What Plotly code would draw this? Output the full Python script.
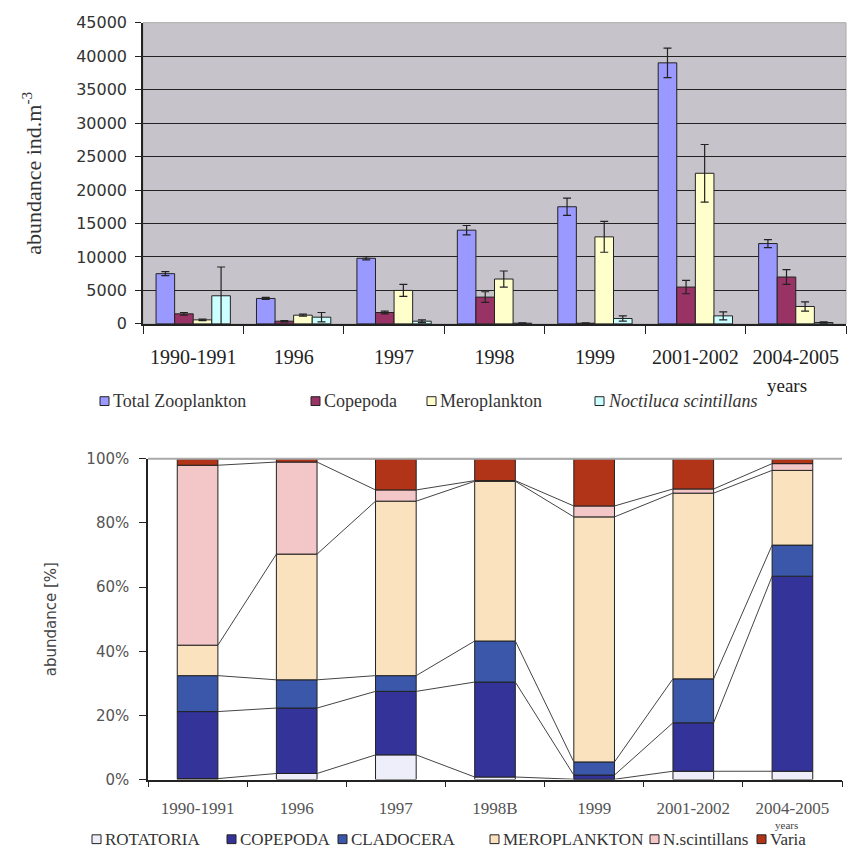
import plotly.graph_objects as go

# ---------------- data: top chart (abundance ind.m-3) ----------------
years_top = ["1990-1991", "1996", "1997", "1998", "1999", "2001-2002", "2004-2005"]
total_zoo = [7500, 3800, 9800, 14000, 17500, 39000, 12000]
total_err = [300, 150, 250, 700, 1300, 2200, 600]
copepoda = [1500, 400, 1700, 4000, 100, 5500, 7000]
copepoda_err = [200, 100, 200, 800, 50, 1000, 1100]
meroplankton = [600, 1300, 5000, 6700, 13000, 22500, 2600]
meroplankton_err = [100, 150, 900, 1200, 2300, 4300, 700]
noctiluca = [4200, 1000, 400, 100, 800, 1200, 200]
noctiluca_err = [4300, 700, 200, 50, 400, 600, 100]
top_ticks = [0, 5000, 10000, 15000, 20000, 25000, 30000, 35000, 40000, 45000]

# ---------------- data: bottom chart (abundance %) ----------------
years_bot = ["1990-1991", "1996", "1997", "1998B", "1999", "2001-2002", "2004-2005"]
rotatoria = [0.3, 1.9, 7.7, 0.8, 0.1, 2.6, 2.6]
copepoda_pct = [20.9, 20.4, 19.8, 29.6, 1.3, 15.1, 60.8]
cladocera = [11.2, 8.8, 4.9, 12.8, 4.1, 13.7, 9.7]
meroplankton_pct = [9.5, 39.2, 54.4, 49.8, 76.4, 57.9, 23.3]
n_scint = [56.1, 28.7, 3.5, 0.2, 3.4, 1.3, 2.1]
varia = [2.0, 1.0, 9.7, 6.8, 14.7, 9.4, 1.5]
bot_ticks = [0, 20, 40, 60, 80, 100]
bot_ticktext = [f"{t}%" for t in bot_ticks]

W, H = 851, 859
SERIF = "Liberation Serif"
SANS = "DejaVu Sans"
BOT_BAR_W = 0.41

fig = go.Figure()

# ---------------- top chart ----------------
top_series = [
    ("Total Zooplankton", total_zoo, total_err, "#9999ff"),
    ("Copepoda", copepoda, copepoda_err, "#993366"),
    ("Meroplankton", meroplankton, meroplankton_err, "#ffffcc"),
    ("<i>Noctiluca scintillans</i>", noctiluca, noctiluca_err, "#ccffff"),
]
for k, (name, vals, errs, col) in enumerate(top_series):
    fig.add_trace(go.Bar(
        x=years_top, y=vals, name=name, offsetgroup=f"t{k}",
        marker=dict(color=col, line=dict(color="#222", width=1)),
        error_y=dict(type="data", array=errs, visible=True, color="#222", thickness=1.2, width=4),
        xaxis="x", yaxis="y", showlegend=False,
    ))

# ---------------- bottom chart (stacked via cumulative base) ----------------
bot_series = [
    ("ROTATORIA", rotatoria, "#eeeefa"),
    ("COPEPODA", copepoda_pct, "#33339a"),
    ("CLADOCERA", cladocera, "#3b57a9"),
    ("MEROPLANKTON", meroplankton_pct, "#f9e2bd"),
    ("N.scintillans", n_scint, "#f3c6c8"),
    ("Varia", varia, "#b23418"),
]
cum = [0.0] * len(years_bot)
tops = []
for name, vals, col in bot_series:
    fig.add_trace(go.Bar(
        x=years_bot, y=vals, base=list(cum), name=name, offsetgroup="b", width=BOT_BAR_W,
        marker=dict(color=col, line=dict(color="#222", width=1)),
        xaxis="x2", yaxis="y2", showlegend=False,
    ))
    cum = [c + v for c, v in zip(cum, vals)]
    tops.append(list(cum))

# series lines joining the tops of each stacked segment
for top in tops:
    xs, ys = [], []
    for i in range(len(years_bot) - 1):
        xs += [i + BOT_BAR_W / 2, i + 1 - BOT_BAR_W / 2, None]
        ys += [top[i], top[i + 1], None]
    fig.add_trace(go.Scatter(x=xs, y=ys, mode="lines", line=dict(color="#444", width=1),
                             xaxis="x3", yaxis="y2", showlegend=False, hoverinfo="skip"))

# ---------------- helpers ----------------
def px_x(a, b):
    return [a / W, b / W]

def px_y(top, bottom):
    return [1 - bottom / H, 1 - top / H]

shapes = [
    # grey plot background of the top chart
    dict(type="rect", xref="paper", yref="paper", x0=143 / W, x1=846 / W,
         y0=1 - 322 / H, y1=1 - 14 / H, fillcolor="#c6c4ca", line=dict(color="#aaa", width=1),
         layer="below"),
    # light top frame line of the bottom chart
    dict(type="line", xref="paper", yref="paper", x0=148 / W, x1=842 / W,
         y0=1 - 460 / H, y1=1 - 460 / H, line=dict(color="#aaa", width=2)),
]
annotations = [
    dict(text="years", x=809 / W, y=1 - 385 / H, xref="paper", yref="paper", showarrow=False,
         yanchor="middle", font=dict(family=SERIF, size=19, color="#222")),
    dict(text="years", x=800 / W, y=1 - 834 / H, xref="paper", yref="paper", showarrow=False,
         yanchor="middle", font=dict(family=SERIF, size=11, color="#444")),
]

# manual legends (Excel style: small square right before the text)
def add_legend(items, xs, yc, size, font, box):
    for (name, col), x in zip(items, xs):
        shapes.append(dict(type="rect", xref="paper", yref="paper",
                           x0=x / W, x1=(x + box) / W,
                           y0=1 - (yc + box / 2) / H, y1=1 - (yc - box / 2) / H,
                           fillcolor=col, line=dict(color="#222", width=1)))
        annotations.append(dict(text=name, x=(x + box + 2) / W, y=1 - yc / H, xref="paper", yref="paper",
                                xanchor="left", yanchor="middle", showarrow=False,
                                font=dict(family=font, size=size, color="#333")))

add_legend([(n, c) for n, _, _, c in top_series], [100, 311, 427, 595], 401, 18, SERIF, 9)
add_legend([(n, c) for n, _, c in bot_series], [92, 227, 338, 490, 650, 757], 849, 17, SERIF, 9)

fig.update_layout(
    width=W, height=H, margin=dict(l=0, r=0, t=0, b=0),
    paper_bgcolor="white", plot_bgcolor="white",
    barmode="group", bargap=0.26, bargroupgap=0,
    showlegend=False,
    xaxis=dict(domain=px_x(143, 846), type="category", tickson="boundaries", ticks="outside",
               ticklen=8, tickcolor="#222", showline=True, linecolor="#222", linewidth=1.5,
               tickfont=dict(family=SERIF, size=20, color="#222"), ticklabelstandoff=14,
               anchor="y", showgrid=False),
    yaxis=dict(domain=px_y(14, 322), range=[0, 45000], tickvals=top_ticks, tickformat="d",
               ticks="outside", ticklen=6, tickcolor="#222", showline=True, linecolor="#222",
               linewidth=1.5, showgrid=True, gridcolor="#222", gridwidth=1.3, zeroline=False,
               tickfont=dict(family=SANS, size=16, color="#333"), ticklabelstandoff=5, anchor="x",
               title=dict(text="abundance ind.m<sup>-3</sup>", font=dict(family=SERIF, size=22, color="#333"),
                          standoff=28)),
    xaxis2=dict(domain=px_x(148, 842), type="category", tickson="boundaries", ticks="outside",
                ticklen=6, tickcolor="#222", showline=True, linecolor="#222", linewidth=1.5,
                tickfont=dict(family=SERIF, size=17, color="#555"), ticklabelstandoff=12,
                anchor="y2", showgrid=False),
    xaxis3=dict(domain=px_x(148, 842), range=[-0.5, len(years_bot) - 0.5], overlaying="x2",
                visible=False, anchor="y2"),
    yaxis2=dict(domain=px_y(460, 788), range=[0, 100], tickvals=bot_ticks, ticktext=bot_ticktext,
                ticks="outside", ticklen=7, tickcolor="#222", showline=True, linecolor="#222",
                linewidth=1.5, showgrid=False, zeroline=False,
                tickfont=dict(family=SANS, size=15, color="#555"), ticklabelstandoff=7, anchor="x2",
                title=dict(text="abundance [%]", font=dict(family=SANS, size=15, color="#444"), standoff=26)),
    annotations=annotations,
    shapes=shapes,
)

fig.write_html("out.html")
